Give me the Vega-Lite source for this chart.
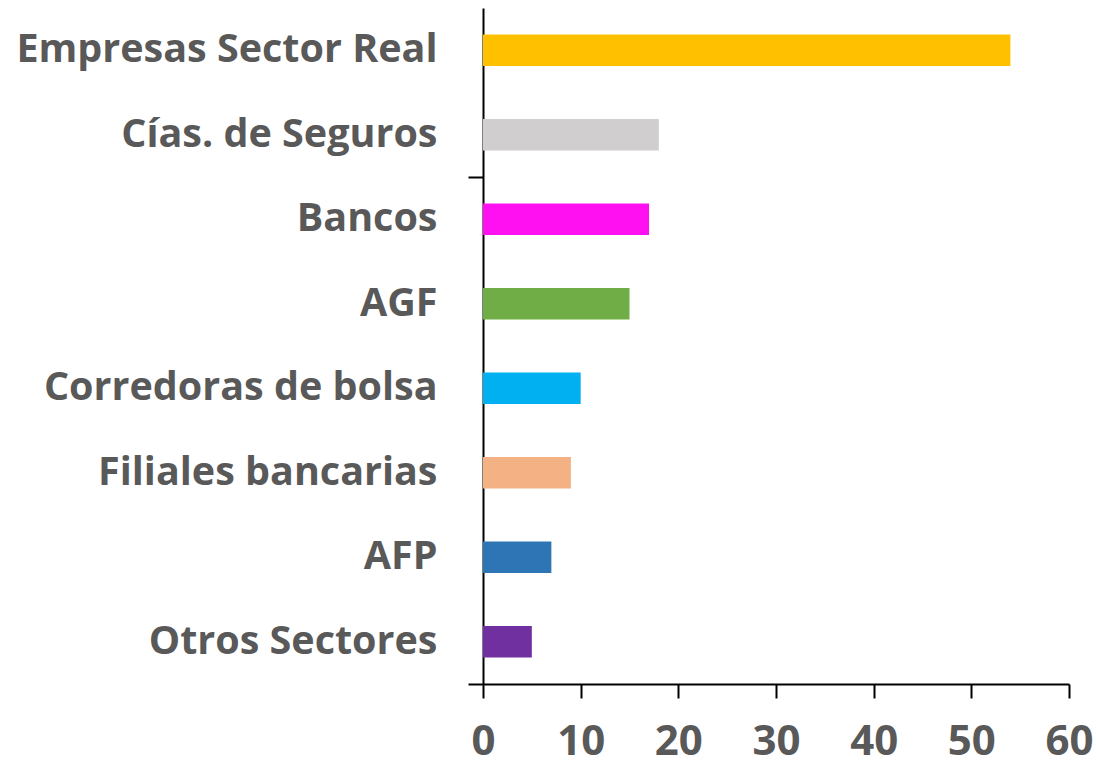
{
  "$schema": "https://vega.github.io/schema/vega-lite/v6.json",
  "autosize": "none",
  "width": 586,
  "height": 676,
  "padding": {"left": 483, "top": 8, "right": 27, "bottom": 80},
  "background": "white",
  "config": {"view": {"stroke": null}, "font": "Open Sans"},
  "data": {"values": [
    {"sector": "Empresas Sector Real", "valor": 54, "color": "#FFC000"},
    {"sector": "Cías. de Seguros", "valor": 18, "color": "#D0CECE"},
    {"sector": "Bancos", "valor": 17, "color": "#FF10F0"},
    {"sector": "AGF", "valor": 15, "color": "#70AD47"},
    {"sector": "Corredoras de bolsa", "valor": 10, "color": "#00B0F0"},
    {"sector": "Filiales bancarias", "valor": 9, "color": "#F4B183"},
    {"sector": "AFP", "valor": 7, "color": "#2E75B6"},
    {"sector": "Otros Sectores", "valor": 5, "color": "#7030A0"}
  ]},
  "layer": [
    {
      "mark": {"type": "bar", "height": {"band": 0.375}},
      "encoding": {
        "y": {"field": "sector", "type": "nominal", "sort": null, "title": null,
          "scale": {"paddingInner": 0, "paddingOuter": 0},
          "axis": {"orient": "left", "ticks": false, "tickSize": 0, "domain": true, "domainColor": "#000000", "domainWidth": 2,
            "labelFont": "Open Sans", "labelFontWeight": "bold", "labelFontSize": 39.5, "labelColor": "#595959", "labelPadding": 46, "labelLimit": 600}},
        "x": {"field": "valor", "type": "quantitative", "title": null,
          "scale": {"domain": [0, 60], "nice": false},
          "axis": {"values": [0, 10, 20, 30, 40, 50, 60], "grid": false, "domainColor": "#000000", "domainWidth": 2,
            "tickColor": "#000000", "tickWidth": 2, "tickSize": 14, "labelFont": "Open Sans", "labelFontWeight": "bold",
            "labelFontSize": 42, "labelColor": "#595959", "labelPadding": 23, "labelFlush": false}},
        "color": {"field": "color", "type": "nominal", "scale": null, "legend": null}
      }
    },
    {
      "mark": {"type": "point", "opacity": 0},
      "encoding": {
        "y": {"field": "sector", "type": "nominal", "sort": null, "title": null,
          "axis": {"orient": "left", "values": ["Cías. de Seguros", "Otros Sectores"], "labels": false, "domain": false,
            "ticks": true, "bandPosition": 1, "tickSize": 15, "tickWidth": 2, "tickColor": "#000000"}}
      }
    }
  ],
  "resolve": {"axis": {"y": "independent"}}
}
